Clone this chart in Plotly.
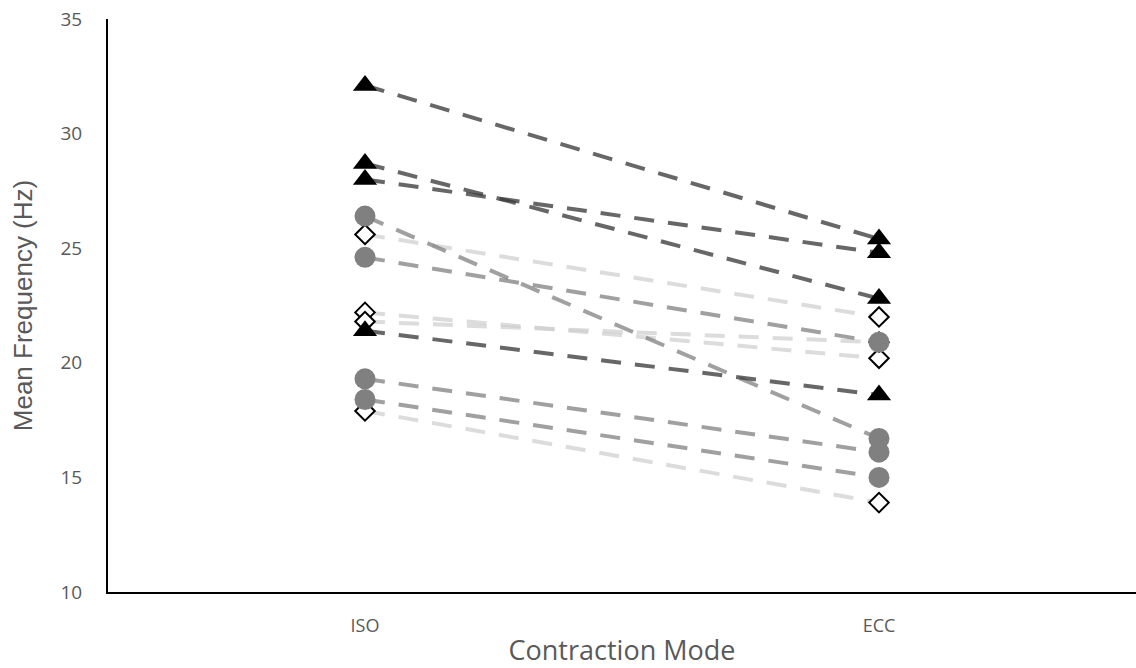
import plotly.graph_objects as go

modes = ["ISO", "ECC"]

# Mean frequency (Hz) per subject, ISO then ECC
group_a = [  # triangles
    [32.1, 25.4],
    [28.7, 22.8],
    [28.0, 24.8],
    [21.4, 18.6],
]
group_b = [  # circles
    [26.4, 16.7],
    [24.6, 20.9],
    [19.3, 16.1],
    [18.4, 15.0],
]
group_c = [  # diamonds
    [25.6, 22.0],
    [22.2, 20.2],
    [21.8, 20.9],
    [17.9, 13.9],
]

fig = go.Figure()

DASH = "20px,14px"


def add_group(rows, line_color, marker):
    for vals in rows:
        fig.add_trace(go.Scatter(
            x=modes, y=vals, mode="lines+markers",
            line=dict(color=line_color, width=4, dash=DASH),
            marker=marker, showlegend=False, hoverinfo="y",
        ))


add_group(group_c, "rgba(205,205,205,0.7)",
          dict(symbol="diamond", size=15, color="white",
               line=dict(color="black", width=2)))
add_group(group_b, "rgba(120,120,120,0.7)",
          dict(symbol="circle", size=21, color="#808080",
               line=dict(width=0)))
add_group(group_a, "rgba(60,60,60,0.78)",
          dict(symbol="triangle-up", size=21, color="black",
               line=dict(width=0)))

font = "Open Sans, sans-serif"

fig.update_layout(
    width=1136, height=668,
    margin=dict(l=108, r=0, t=19, b=76),
    paper_bgcolor="white", plot_bgcolor="white",
    font=dict(family=font, color="#595959"),
    xaxis=dict(
        type="category", range=[-0.5, 1.5],
        showline=True, linecolor="black", linewidth=2,
        showgrid=False, zeroline=False, ticks="",
        tickfont=dict(size=18, color="#595959"),
        ticklabelstandoff=16,
        title=dict(text="Contraction Mode",
                   font=dict(size=27, color="#595959"),
                   standoff=6),
    ),
    yaxis=dict(
        range=[10, 35], dtick=5,
        showline=True, linecolor="black", linewidth=2,
        showgrid=False, zeroline=False, ticks="",
        tickfont=dict(size=19, color="#595959"),
        ticklabelstandoff=20,
        title=dict(text="Mean Frequency (Hz)",
                   font=dict(size=26, color="#595959",
                             family="Liberation Sans, Arial, sans-serif"),
                   standoff=20),
    ),
)

fig.write_html("out.html")
